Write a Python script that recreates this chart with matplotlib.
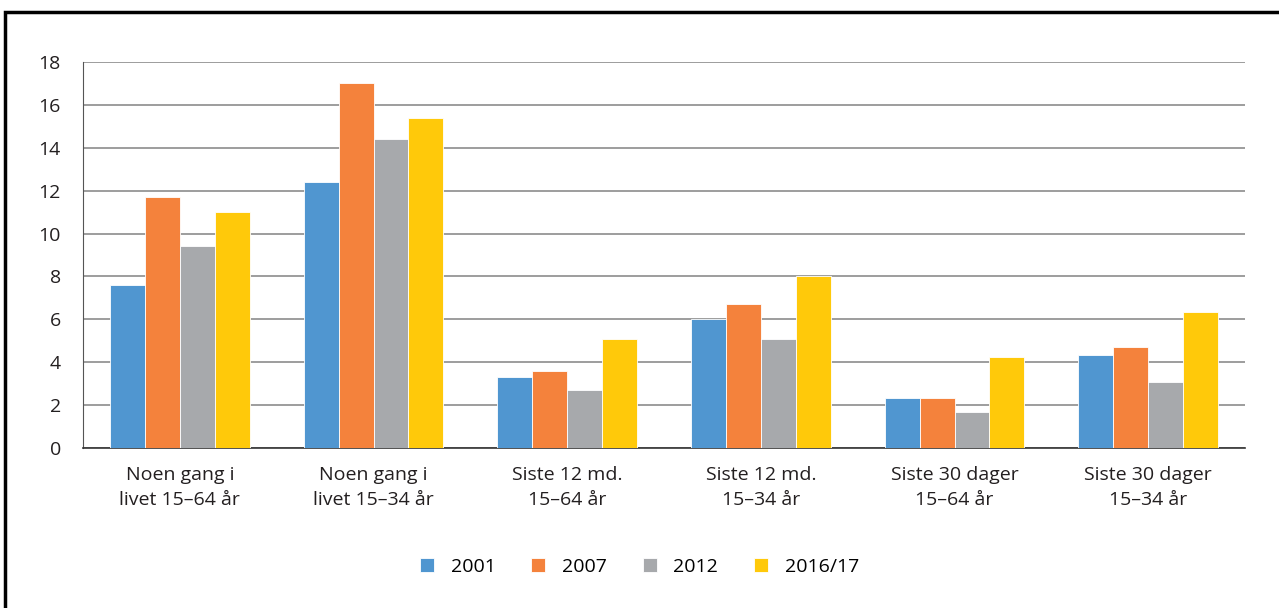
import matplotlib.pyplot as plt
import numpy as np
from matplotlib.patches import Rectangle

plt.rcParams['font.family'] = ['Open Sans', 'DejaVu Sans']

categories = ['Noen gang i\nlivet 15\u201364 år', 'Noen gang i\nlivet 15\u201334 år',
              'Siste 12 md.\n15\u201364 år', 'Siste 12 md.\n15\u201334 år',
              'Siste 30 dager\n15\u201364 år', 'Siste 30 dager\n15\u201334 år']
series = ['2001', '2007', '2012', '2016/17']
v2001 = [7.6, 12.4, 3.3, 6.0, 2.35, 4.35]
v2007 = [11.7, 17.0, 3.6, 6.7, 2.35, 4.7]
v2012 = [9.4, 14.4, 2.7, 5.1, 1.7, 3.1]
v2016 = [11.0, 15.4, 5.1, 8.0, 4.25, 6.35]
colors = ['#5096d0', '#f4823c', '#a7a9ac', '#ffc90a']

fig = plt.figure(figsize=(12.79, 6.08), dpi=100)
ax = fig.add_axes([83 / 1279, 1 - 448 / 608, (1245 - 83) / 1279, (448 - 62) / 608])

x = np.arange(len(categories))
w = 0.18
for i, (vals, lab, c) in enumerate(zip([v2001, v2007, v2012, v2016], series, colors)):
    ax.bar(x + (i - 1.5) * w, vals, w, color=c, label=lab, edgecolor='white', linewidth=0.6, zorder=3)

ax.set_xlim(-0.5, len(categories) - 0.5)
ax.set_ylim(0, 18)
ax.set_yticks(range(0, 19, 2))
ax.yaxis.grid(True, color='#8c8c8c', linewidth=1.2, zorder=0)
ax.set_xticks(x)
ax.set_xticklabels(categories, fontsize=14, color='#231f20', linespacing=1.5)
ax.tick_params(axis='y', labelsize=14, labelcolor='#231f20', length=0, pad=16)
ax.tick_params(axis='x', length=0, pad=13)
for s in ['top', 'right']:
    ax.spines[s].set_visible(False)
ax.spines['left'].set_color('#555555')
ax.spines['bottom'].set_color('#333333')
ax.spines['bottom'].set_linewidth(1.2)

fig.legend(loc='center', bbox_to_anchor=(0.5, 1 - 567 / 608), ncol=4, frameon=False,
           fontsize=14, handlelength=0.72, handleheight=0.72, columnspacing=1.85, handletextpad=0.85)

fig.patches.append(Rectangle((5 / 1279, -0.1), 1.2, (1 - 12 / 608) + 0.1, transform=fig.transFigure,
                             fill=False, edgecolor='black', linewidth=2.5))

fig.savefig('out.png', dpi=100)
